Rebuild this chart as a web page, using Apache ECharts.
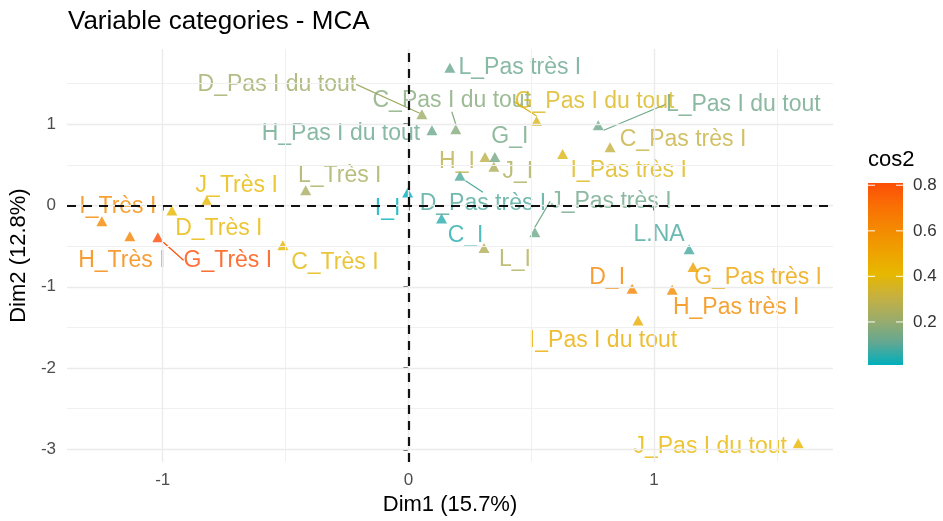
<!DOCTYPE html>
<html>
<head>
<meta charset="utf-8">
<script src="https://cdn.jsdelivr.net/npm/echarts@6/dist/echarts.min.js"></script>
<style>
  html, body { margin: 0; padding: 0; background: #ffffff; }
  #chart { width: 943px; height: 521px; }
</style>
</head>
<body>
<div id="chart"></div>
<script>
// MCA variable categories: coordinates on Dim1 / Dim2 and quality of representation (cos2)
const categories = [
  'I_Très I', 'H_Très I', 'G_Très I', 'D_Très I', 'J_Très I', 'L_Très I', 'C_Très I',
  'I_I', 'D_Pas très I', 'H_I', 'G_I', 'J_I',
  'D_Pas I du tout', 'C_Pas I du tout', 'H_Pas I du tout', 'L_Pas très I',
  'G_Pas I du tout', 'L_Pas I du tout', 'C_Pas très I', 'I_Pas très I',
  'J_Pas très I', 'C_I', 'L_I', 'L.NA', 'G_Pas très I', 'D_I',
  'H_Pas très I', 'I_Pas I du tout', 'J_Pas I du tout'
];
const dim1 = [
  -1.248, -1.134, -1.020, -0.963, -0.821, -0.418, -0.511,
  -0.003, 0.210, 0.312, 0.352, 0.348,
  0.055, 0.193, 0.096, 0.169,
  0.522, 0.773, 0.821, 0.628,
  0.515, 0.135, 0.308, 1.143, 1.159, 0.911,
  1.074, 0.935, 1.587
];
const dim2 = [
  -0.195, -0.378, -0.390, -0.061, 0.061, 0.187, -0.488,
  0.159, 0.366, 0.598, 0.598, 0.476,
  1.122, 0.939, 0.927, 1.695,
  1.040, 0.988, 0.716, 0.634,
  -0.329, -0.159, -0.524, -0.537, -0.756, -1.024,
  -1.037, -1.415, -2.927
];
const cos2 = [
  0.61, 0.63, 0.81, 0.42, 0.41, 0.24, 0.40,
  0.011, 0.09, 0.29, 0.14, 0.25,
  0.22, 0.17, 0.12, 0.12,
  0.37, 0.13, 0.31, 0.38,
  0.13, 0.05, 0.26, 0.08, 0.50, 0.62,
  0.60, 0.46, 0.42
];

// axis breaks
const xBreaks = [-1, 0, 1];
const xMinorBreaks = [-0.5, 0.5, 1.5];
const yBreaks = [-3, -2, -1, 0, 1];
const yMinorBreaks = [-2.5, -1.5, -0.5, 0.5, 1.5];
const legendBreaks = [0.2, 0.4, 0.6, 0.8];

// label placement: offset of each label's centre from its point, in pixels
const labelNudge = {
  'I_Très I': [16, -15], 'H_Très I': [-8, 24], 'G_Très I': [70, 23],
  'D_Très I': [47, 18], 'J_Très I': [30, -15], 'L_Très I': [34, -15],
  'C_Très I': [52, 18], 'I_I': [-20, 16], 'D_Pas très I': [23, 28],
  'H_I': [-28, 5], 'G_I': [15, -20], 'J_I': [24, 5],
  'D_Pas I du tout': [-145, -30], 'C_Pas I du tout': [-4, -29],
  'H_Pas I du tout': [-91, 3], 'L_Pas très I': [70, 0],
  'G_Pas I du tout': [58, -19], 'L_Pas I du tout': [145, -21],
  'C_Pas très I': [73, -8], 'I_Pas très I': [66, 17],
  'J_Pas très I': [76, -31], 'C_I': [24, 17], 'L_I': [31, 12],
  'L.NA': [-30, -14], 'G_Pas très I': [65, 11], 'D_I': [-25, -11],
  'H_Pas très I': [64, 18], 'I_Pas I du tout': [-35, 20],
  'J_Pas I du tout': [-88, 3]
};
// labels pushed far enough to be tied back to their point
const labelSegments = ['G_Très I', 'D_Pas très I', 'D_Pas I du tout', 'C_Pas I du tout',
  'G_Pas I du tout', 'L_Pas I du tout', 'J_Pas très I'];

// teal -> gold -> red-orange gradient for cos2
const gradientColors = ['#00AFBB', '#64A792', '#9BAC6A', '#C6B040', '#E7B800',
  '#EEA100', '#F48902', '#F96F04', '#FC4E07'];

const FONT = '"Liberation Sans", Arial, Helvetica, sans-serif';

// panel limits: data range expanded by 5% on each side
function expand(arr) {
  const lo = Math.min(...arr), hi = Math.max(...arr), pad = (hi - lo) * 0.05;
  return [lo - pad, hi + pad];
}
const xLim = expand(dim1);
const yLim = expand(dim2);
const cMin = Math.min(...cos2), cMax = Math.max(...cos2);

const points = categories.map((name, i) => {
  const item = { name: name, value: [dim1[i], dim2[i], cos2[i]] };
  if (labelSegments.includes(name)) item.labelLine = { show: true };
  return item;
});

const majorGrid = { color: '#EBEBEB', width: 1.4, type: 'solid' };
const minorGrid = { color: '#F0F0F0', width: 1, type: 'solid' };
const gridLines = []
  .concat(xMinorBreaks.map(v => ({ xAxis: v, lineStyle: minorGrid })))
  .concat(yMinorBreaks.map(v => ({ yAxis: v, lineStyle: minorGrid })))
  .concat(xBreaks.map(v => ({ xAxis: v, lineStyle: majorGrid })))
  .concat(yBreaks.map(v => ({ yAxis: v, lineStyle: majorGrid })));

// colour bar geometry
const bar = { x: 868, y: 183, w: 35, h: 182 };
const barY = v => bar.y + (cMax - v) / (cMax - cMin) * bar.h;
const legendGraphics = [
  { type: 'text', left: 868, top: 149,
    style: { text: 'cos2', fontSize: 22, fontFamily: FONT, fill: '#000' } },
  { type: 'rect', shape: { x: bar.x, y: bar.y, width: bar.w, height: bar.h },
    style: { fill: new echarts.graphic.LinearGradient(0, 0, 0, 1,
      gradientColors.slice().reverse().map((c, i, a) => ({ offset: i / (a.length - 1), color: c }))) } }
];
legendBreaks.forEach(v => {
  const y = barY(v);
  legendGraphics.push(
    { type: 'line', shape: { x1: bar.x, y1: y, x2: bar.x + 7, y2: y }, style: { stroke: '#fff', lineWidth: 1.2, opacity: 0.8 } },
    { type: 'line', shape: { x1: bar.x + bar.w - 7, y1: y, x2: bar.x + bar.w, y2: y }, style: { stroke: '#fff', lineWidth: 1.2, opacity: 0.8 } },
    { type: 'text', x: 913, y: y,
      style: { text: v.toFixed(1), fontSize: 17, fontFamily: FONT, fill: '#333', textVerticalAlign: 'middle', textAlign: 'left' } }
  );
});

const axisCommon = {
  type: 'value',
  axisLine: { show: false },
  splitLine: { show: false },
  axisTick: { show: true, length: 5, lineStyle: { color: '#333', width: 1.6 } },
  axisLabel: { color: '#4D4D4D', fontSize: 17, fontFamily: FONT, margin: 10 },
  nameLocation: 'middle',
  nameTextStyle: { color: '#000', fontSize: 22, fontFamily: FONT }
};

const chart = echarts.init(document.getElementById('chart'), null, { renderer: 'canvas' });
chart.setOption({
  animation: false,
  backgroundColor: '#ffffff',
  title: {
    text: 'Variable categories - MCA', left: 68, top: 9, padding: 0,
    textStyle: { fontSize: 26, fontWeight: 'normal', color: '#000', fontFamily: FONT }
  },
  grid: { left: 67, right: 110, top: 49, bottom: 55, containLabel: false },
  xAxis: Object.assign({}, axisCommon, {
    min: xLim[0], max: xLim[1],
    name: 'Dim1 (15.7%)', nameGap: 30,
    axisTick: Object.assign({}, axisCommon.axisTick, { customValues: xBreaks }),
    axisLabel: Object.assign({}, axisCommon.axisLabel, { customValues: xBreaks })
  }),
  yAxis: Object.assign({}, axisCommon, {
    min: yLim[0], max: yLim[1],
    name: 'Dim2 (12.8%)', nameGap: 34,
    axisTick: Object.assign({}, axisCommon.axisTick, { customValues: yBreaks }),
    axisLabel: Object.assign({}, axisCommon.axisLabel, { customValues: yBreaks, margin: 11 })
  }),
  visualMap: {
    show: false, type: 'continuous', seriesIndex: 1, dimension: 2,
    min: cMin, max: cMax, inRange: { color: gradientColors }
  },
  graphic: legendGraphics,
  series: [
    {
      // panel grid
      type: 'scatter', data: [], silent: true, z: 1,
      markLine: { silent: true, symbol: ['none', 'none'], label: { show: false }, animation: false, data: gridLines }
    },
    {
      type: 'scatter', z: 3,
      symbol: 'triangle', symbolSize: [11, 10],
      data: points,
      label: {
        show: true, formatter: '{b}', position: 'inside',
        color: 'inherit', fontSize: 23, fontFamily: FONT
      },
      labelLine: { show: false, lineStyle: { width: 1.2 } },
      labelLayout: function (p) {
        const n = labelNudge[categories[p.dataIndex]] || [0, 0];
        return {
          x: p.rect.x + p.rect.width / 2 + n[0],
          y: p.rect.y + p.rect.height / 2 + n[1],
          align: 'center', verticalAlign: 'middle'
        };
      }
    },
    {
      // reference lines through the origin
      type: 'scatter', data: [], silent: true, z: 5,
      markLine: {
        silent: true, symbol: ['none', 'none'], label: { show: false }, animation: false,
        lineStyle: { color: '#111', width: 2.2, type: [9, 7] },
        data: [{ xAxis: 0 }, { yAxis: 0 }]
      }
    }
  ]
});
</script>
</body>
</html>
